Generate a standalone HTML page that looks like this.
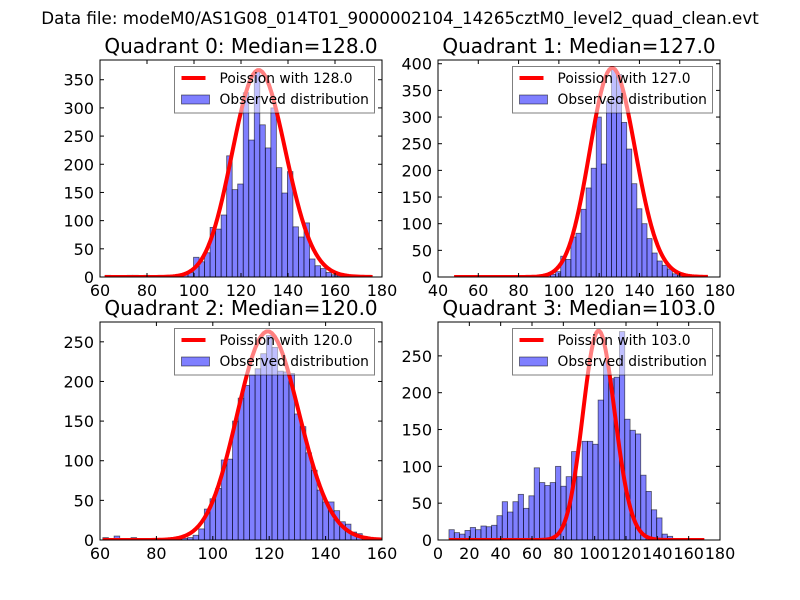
<!DOCTYPE html>
<html><head><meta charset="utf-8">
<style>
html,body{margin:0;padding:0;background:#fff;}
svg{display:block;font-family:"DejaVu Sans","Liberation Sans",sans-serif;}
</style></head>
<body>
<svg id="chart" width="800" height="600" viewBox="0 0 800 600">
<rect width="800" height="600" fill="#fff"/>
<text x="400" y="24" text-anchor="middle" font-size="16.7">Data file: modeM0/AS1G08_014T01_9000002104_14265cztM0_level2_quad_clean.evt</text>
</svg>
<script>
// ---- data ----
var quadrantNames = ["Quadrant 0", "Quadrant 1", "Quadrant 2", "Quadrant 3"];
var medians = [128.0, 127.0, 120.0, 103.0];
var binStart = [62.2, 48.0, 61.0, 7.0];
var binWidth = [2.35, 2.52, 2.0, 3.4];
var counts0 = [3,0,0,2,3,3,2,3,0,0,0,0,2,3,5,8,35,27,43,88,85,110,215,155,165,327,243,365,270,229,300,194,149,187,89,71,96,32,20,15,8,4,2,1,0,0,0,0,0,0];
var counts1 = [0,0,0,0,0,0,0,0,0,3,0,0,0,0,2,0,0,2,3,5,10,39,33,75,82,127,167,204,300,212,330,390,380,290,240,175,128,100,72,45,30,22,15,6,3,1,0,0,0,0];
var counts2 = [3,0,5,0,0,3,0,0,0,0,0,0,1,1,2,3,6,14,39,52,65,101,102,150,179,195,208,216,235,258,243,213,212,210,159,143,110,88,63,48,48,37,23,20,10,8,3,1,0,0];
var counts3 = [14,10,8,13,17,14,19,18,20,33,52,38,52,62,43,60,98,78,74,78,100,73,86,120,86,134,134,130,190,242,219,221,283,164,149,144,88,66,41,30,8,5,1,1,0,0,0,0,0,0];
var curveFrom = [62, 48, 61, 7];
var curveTo = [176, 174, 160, 170];
var curvePeak = [367, 392, 263, 284];
var xMin = [60, 40, 60, 0];
var xMax = [180, 180, 160, 180];
var yMax = [385, 407, 275, 296];
var xTicks0 = [60,80,100,120,140,160,180];
var xTicks1 = [40,60,80,100,120,140,160,180];
var xTicks2 = [60,80,100,120,140,160];
var xTicks3 = [0,20,40,60,80,100,120,140,160,180];
var yTicks0 = [0,50,100,150,200,250,300,350];
var yTicks1 = [0,50,100,150,200,250,300,350,400];
var yTicks2 = [0,50,100,150,200,250];
var yTicks3 = [0,50,100,150,200,250];

var counts = [counts0, counts1, counts2, counts3];
var xTicks = [xTicks0, xTicks1, xTicks2, xTicks3];
var yTicks = [yTicks0, yTicks1, yTicks2, yTicks3];
var boxes = [[100,60,382,277],[438,60,720,277],[100,322,382,540],[438,322,720,540]];

var NS = "http://www.w3.org/2000/svg";
var svg = document.getElementById("chart");
function mk(tag, attrs, parent){
  var e = document.createElementNS(NS, tag);
  for (var k in attrs) e.setAttribute(k, attrs[k]);
  (parent||svg).appendChild(e);
  return e;
}
function lgamma(n){ var s=0; for (var i=2;i<=n;i++) s+=Math.log(i); return s; }
function logPois(k, lam){ return k*Math.log(lam) - lam - lgamma(k); }

for (var q=0; q<4; q++){
  var b = boxes[q], L=b[0], T=b[1], R=b[2], B=b[3];
  var g = mk("g", {});
  
  
  var xs = (function(L,R,a,c){return function(v){return L+(v-a)/(c-a)*(R-L);};})(L,R,xMin[q],xMax[q]);
  var ys = (function(T,B,m){return function(v){return B-v/m*(B-T);};})(T,B,yMax[q]);
  var clipId = "clip"+q;
  var cp = mk("clipPath", {id:clipId}, g);
  mk("rect", {x:L,y:T,width:R-L,height:B-T}, cp);
  var plot = mk("g", {"clip-path":"url(#"+clipId+")"}, g);
  var cs = counts[q];
  for (var i=0;i<cs.length;i++){
    if (cs[i] <= 0) continue;
    var x0 = xs(binStart[q]+i*binWidth[q]), x1 = xs(binStart[q]+(i+1)*binWidth[q]);
    var r = mk("rect", {x:x0, y:ys(cs[i]), width:x1-x0, height:ys(0)-ys(cs[i]), fill:"#0000ff","fill-opacity":"0.5", stroke:"#000","stroke-opacity":"0.6","stroke-width":"0.8"}, plot);
    
    
  }
  var lam = medians[q];
  var peakLog = logPois(Math.floor(lam), lam);
  var pts = [];
  for (var k=curveFrom[q]; k<=curveTo[q]; k++){
    var v = curvePeak[q]*Math.exp(logPois(k, lam)-peakLog);
    pts.push(xs(k).toFixed(2)+","+ys(v).toFixed(2));
  }
  var pl = mk("polyline", {points:pts.join(" "), fill:"none", stroke:"#ff0000","stroke-width":"4","stroke-linejoin":"round"}, plot);
  
  
  var fr = mk("rect", {x:L,y:T,width:R-L,height:B-T,fill:"none",stroke:"#000","stroke-width":"1"}, g);
  
  
  var xt = xTicks[q];
  for (var i=0;i<xt.length;i++){
    var X = xs(xt[i]);
    mk("line",{x1:X,y1:B,x2:X,y2:B-4,stroke:"#000"},g);
    mk("line",{x1:X,y1:T,x2:X,y2:T+4,stroke:"#000"},g);
    var tl = mk("text",{x:X,y:B+19,"text-anchor":"middle","font-size":"16"},g);
    tl.textContent = xt[i];
    
    
  }
  var yt = yTicks[q];
  for (var i=0;i<yt.length;i++){
    var Y = ys(yt[i]);
    mk("line",{x1:L,y1:Y,x2:L+4,y2:Y,stroke:"#000"},g);
    mk("line",{x1:R,y1:Y,x2:R-4,y2:Y,stroke:"#000"},g);
    var yl = mk("text",{x:L-6,y:Y+6,"text-anchor":"end","font-size":"16"},g);
    yl.textContent = yt[i];
    
    
  }
  var tt = mk("text",{x:(L+R)/2,y:T-7,"text-anchor":"middle","font-size":"20"},g);
  tt.textContent = quadrantNames[q] + ": Median=" + medians[q].toFixed(1);
  
  
  var lg = mk("g",{},g);
  
  
  var lx = L+74.5, ly = T+6.5;
  mk("rect",{x:lx,y:ly,width:200,height:46.5,fill:"#fff","fill-opacity":"0.5",stroke:"#000","stroke-opacity":"0.5","stroke-width":"1"},lg);
  mk("line",{x1:lx+7,y1:ly+11.5,x2:lx+31,y2:ly+11.5,stroke:"#ff0000","stroke-width":"4"},lg);
  var t1 = mk("text",{x:lx+45,y:ly+16.5,"font-size":"13.8"},lg);
  t1.textContent = "Poission with " + medians[q].toFixed(1);
  
  
  mk("rect",{x:lx+7,y:ly+28.5,width:28,height:9,fill:"#0000ff","fill-opacity":"0.5",stroke:"#000","stroke-opacity":"0.6","stroke-width":"0.8"},lg);
  var t2 = mk("text",{x:lx+45,y:ly+37.5,"font-size":"13.8"},lg);
  t2.textContent = "Observed distribution";
  
  
}
</script>
</body></html>
